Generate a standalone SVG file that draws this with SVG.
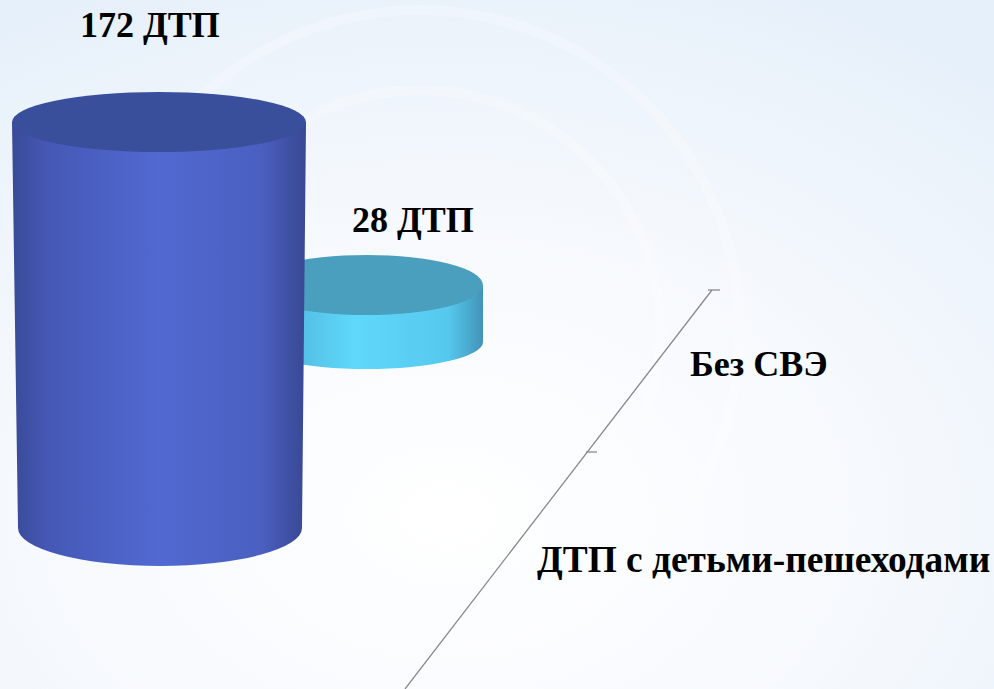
<svg xmlns="http://www.w3.org/2000/svg" width="994" height="689" viewBox="0 0 994 689">
<defs>
<radialGradient id="bg" cx="0.45" cy="0.75" r="0.85">
<stop offset="0" stop-color="#ffffff"/>
<stop offset="0.5" stop-color="#f6f9fd"/>
<stop offset="1" stop-color="#e6f0fa"/>
</radialGradient>
<linearGradient id="bigSide" x1="0" y1="0" x2="1" y2="0">
<stop offset="0" stop-color="#394a97"/>
<stop offset="0.12" stop-color="#4558b5"/>
<stop offset="0.5" stop-color="#5169d1"/>
<stop offset="0.85" stop-color="#4a5fc0"/>
<stop offset="1" stop-color="#384893"/>
</linearGradient>
<linearGradient id="smallSide" x1="0" y1="0" x2="1" y2="0">
<stop offset="0" stop-color="#49a9cf"/>
<stop offset="0.45" stop-color="#5fd8fb"/>
<stop offset="0.85" stop-color="#56c8ee"/>
<stop offset="1" stop-color="#4294b8"/>
</linearGradient>
<style>
.lbl{font-family:"Liberation Serif","Times New Roman",serif;font-weight:bold;font-size:36px;fill:#000}
.axis{stroke:#8a8a8a;stroke-width:1.3;fill:none}
</style>
</defs>
<rect width="994" height="689" fill="url(#bg)"/>
<g fill="none" stroke="#ffffff" stroke-width="10" opacity="0.25">
<circle cx="420" cy="330" r="240"/>
<circle cx="420" cy="330" r="320"/>
</g>
<g id="axis">
<path class="axis" d="M712,290 L405,689"/>
<path class="axis" d="M708,290 L720,290"/>
<path class="axis" d="M586,452 L597,452"/>
</g>
<g id="bar-small">
<path d="M250,285 L483,285 L483,342 A116.5,27 0 0 1 250,342 Z" fill="url(#smallSide)"/>
<ellipse cx="366.5" cy="285" rx="116.5" ry="30" fill="#4a9fbf"/>
</g>
<g id="bar-big">
<path d="M12,122 L306,122 L302,528 A142,38 0 0 1 18,528 Z" fill="url(#bigSide)"/>
<ellipse cx="159" cy="122" rx="147" ry="30" fill="#3a4f9c"/>
</g>
<g id="labels">
<text class="lbl" x="80" y="37">172 ДТП</text>
<text class="lbl" x="352" y="232">28 ДТП</text>
<text class="lbl" x="690" y="376">Без СВЭ</text>
<text class="lbl" x="537" y="572" style="font-size:37.4px">ДТП с детьми-пешеходами</text>
</g>
</svg>
